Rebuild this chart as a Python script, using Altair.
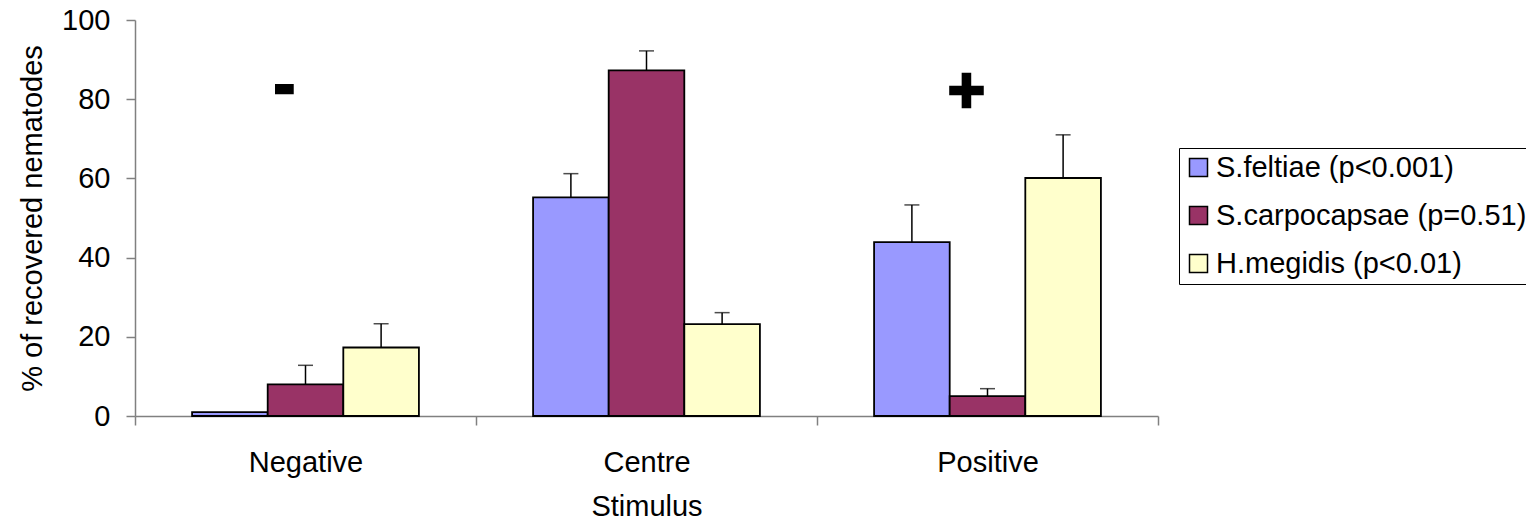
import altair as alt
import pandas as pd

categories = ["Negative", "Centre", "Positive"]
species = ["S.feltiae (p<0.001)", "S.carpocapsae (p=0.51)", "H.megidis (p<0.01)"]
colors = ["#9999FF", "#993366", "#FFFFCC"]

# mean % recovered per stimulus, one list per species (Negative, Centre, Positive)
feltiae_mean = [1.0, 55.2, 43.9]
carpocapsae_mean = [8.0, 87.3, 5.0]
megidis_mean = [17.3, 23.2, 60.1]
# upper error (SE) per species
feltiae_err = [0.0, 6.0, 9.4]
carpocapsae_err = [4.8, 4.9, 1.9]
megidis_err = [6.0, 2.9, 10.9]

sign_labels = ["-", "+"]
sign_cats = ["Negative", "Positive"]
sign_y = [83, 81.5]

rows = []
for sp, means, errs in zip(species,
                           [feltiae_mean, carpocapsae_mean, megidis_mean],
                           [feltiae_err, carpocapsae_err, megidis_err]):
    for c, m, e in zip(categories, means, errs):
        rows.append({"Stimulus": c, "Species": sp, "Mean": m, "Err": e, "Upper": m + e})
df = pd.DataFrame(rows)
signs = pd.DataFrame({"Stimulus": sign_cats, "Sign": sign_labels, "Y": sign_y})

FONT = "Liberation Sans"
FS = 29

x = alt.X("Stimulus:N", sort=categories,
          scale=alt.Scale(domain=categories, paddingInner=0, paddingOuter=0),
          axis=alt.Axis(title="Stimulus", tickBand="extent", labelAngle=0,
                        labelPadding=23, titlePadding=15))
xo = alt.XOffset("Species:N", sort=species,
                 scale=alt.Scale(domain=species, paddingInner=0, paddingOuter=0.755))
y_axis = alt.Axis(values=[0, 20, 40, 60, 80, 100], title="% of recovered nematodes",
                  grid=False, labelPadding=16, titlePadding=14)

bars = alt.Chart(df).mark_bar(stroke="black", strokeWidth=1.8).encode(
    x=x,
    xOffset=xo,
    y=alt.Y("Mean:Q", scale=alt.Scale(domain=[0, 100], nice=False), axis=y_axis),
    color=alt.Color("Species:N", sort=species,
                    scale=alt.Scale(domain=species, range=colors),
                    legend=alt.Legend(title=None, orient="none", legendX=1044, legendY=128,
                                      symbolType="square", symbolSize=324,
                                      symbolStrokeColor="black", symbolStrokeWidth=1.5,
                                      symbolOpacity=1,
                                      labelFontSize=FS, labelFont=FONT, labelColor="black",
                                      labelLimit=1000, labelOffset=3,
                                      strokeColor="black", fillColor="white",
                                      padding=5, rowPadding=18)),
)

err_src = alt.Chart(df).transform_filter("datum.Err > 0")
stems = err_src.mark_rule(color="black", strokeWidth=1.5).encode(
    x=x, xOffset=xo, y="Mean:Q", y2="Upper:Q")
caps = err_src.mark_tick(color="black", size=15, thickness=1.5, orient="horizontal").encode(
    x=x, xOffset=xo, y="Upper:Q")

sign_text = alt.Chart(signs).mark_text(
    font=FONT, fontWeight="bold", fontSize=64, color="black",
    stroke="black", strokeWidth=2.5, dx=-21, baseline="middle", align="center"
).encode(x=x, y="Y:Q", text="Sign:N")

chart = alt.layer(bars, stems, caps, sign_text).properties(
    width=1023, height=396,
    autosize=alt.AutoSizeParams(type="none"),
    padding={"left": 127, "top": 12, "right": 368, "bottom": 104},
).configure_view(stroke=None).configure_axis(
    labelFont=FONT, titleFont=FONT, labelFontSize=FS, titleFontSize=FS,
    labelColor="black", titleColor="black", titleFontWeight="normal",
    domainColor="#808080", tickColor="#808080", tickSize=9, domainWidth=1.5, tickWidth=1.5,
)

chart.save("out.html", embed_options={"renderer": "svg", "actions": False})
